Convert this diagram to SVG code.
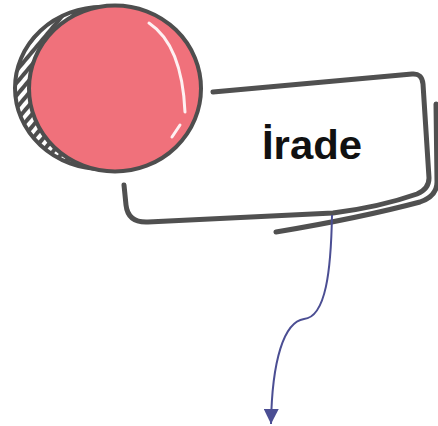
<svg xmlns="http://www.w3.org/2000/svg" width="438" height="426" viewBox="0 0 438 426">
  <defs>
    <style>
      .ink { fill: none; stroke: #505050; stroke-width: 5; stroke-linecap: round; stroke-linejoin: round; }
      .conn { fill: none; stroke: #4b4e93; stroke-width: 2; }
      .label { font-family: "Liberation Sans", Arial, sans-serif; font-weight: bold; font-size: 41px; fill: #111; }
    </style>
    <pattern id="hatch" width="8" height="8" patternUnits="userSpaceOnUse" patternTransform="rotate(40)">
      <rect width="8" height="8" fill="#ffffff"/>
      <rect width="4" height="8" fill="#4e4e4e"/>
    </pattern>
    <marker id="arrow" viewBox="0 0 10 10" refX="10" refY="5" markerWidth="15" markerHeight="15" markerUnits="userSpaceOnUse" orient="auto">
      <path d="M0,0 L10,5 L0,10 Z" fill="#4b4e93"/>
    </marker>
  </defs>

  <rect width="438" height="426" fill="#ffffff"/>

  <g id="coin">
    <ellipse cx="102" cy="88" rx="87" ry="81" fill="url(#hatch)" stroke="#4e4e4e" stroke-width="4"/>
    <ellipse cx="115" cy="88.5" rx="86" ry="83" fill="#f0717b" stroke="#4e4e4e" stroke-width="4"/>
    <path d="M149,23 Q182,45 185,112" fill="none" stroke="#ffffff" stroke-width="3" stroke-linecap="round" opacity="0.9"/>
    <path d="M180,125 L172,137" fill="none" stroke="#ffffff" stroke-width="3" stroke-linecap="round" opacity="0.9"/>
  </g>

  <g id="box">
    <path class="ink" d="M213,92 L412,74 Q422,73 423,84 L429,178 Q429,189 417,194 Q380,207 333,213 L148,222 Q128,223 126,205 L124,185"/>
    <path class="ink" d="M276,232 Q360,218 420,202 Q437,196 437,182 L436,104"/>
    <text class="label" x="312" y="159" text-anchor="middle" textLength="100" lengthAdjust="spacingAndGlyphs">İrade</text>
  </g>

  <g id="connectors">
    <path class="conn" d="M332,215 C331,270 326,317 304,319 C284,322 272,360 271,424" marker-end="url(#arrow)"/>
  </g>
</svg>
